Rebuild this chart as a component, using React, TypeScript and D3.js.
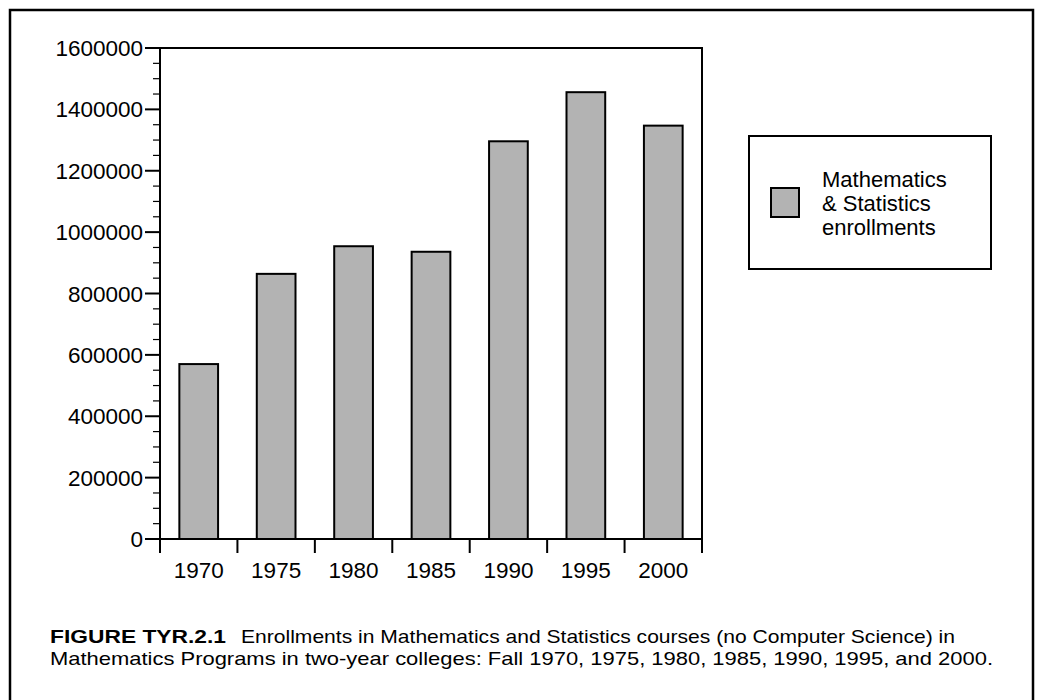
import * as d3 from 'd3';

const years = ['1970', '1975', '1980', '1985', '1990', '1995', '2000'];
const enrollments = [570000, 864000, 954000, 936000, 1296000, 1456000, 1347000];
const yTicks = [0, 200000, 400000, 600000, 800000, 1000000, 1200000, 1400000, 1600000];
const legendLines = ['Mathematics', '& Statistics', 'enrollments'];
const captionBold = 'FIGURE TYR.2.1';
const captionLine1 = 'Enrollments in Mathematics and Statistics courses (no Computer Science) in';
const captionLine2 = 'Mathematics Programs in two-year colleges: Fall 1970, 1975, 1980, 1985, 1990, 1995, and 2000.';

const W = 1042;
const H = 700;
const left = 160;
const right = 702;
const top = 48;
const bottom = 539;
const font = '"Liberation Sans", Arial, Helvetica, sans-serif';

const App = () => {
  const x = d3.scaleBand().domain(years).range([left, right]).paddingInner(0.5).paddingOuter(0.25);
  const xEdges = d3.scaleBand().domain(years).range([left, right]).padding(0);
  const y = d3.scaleLinear().domain([0, 1600000]).range([bottom, top]);
  const minor = d3.range(0, 1600001, 50000).filter((v) => v % 200000 !== 0);
  const edges = years.map((yr) => xEdges(yr)).concat([right]);

  return (
    <svg width={W} height={H} style={{ position: 'absolute', left: 0, top: 0 }} fontFamily={font}>
      <rect width={W} height={H} fill="white" />
      {/* outer frame */}
      <path d="M10,710 V10 H1033 V710" fill="none" stroke="black" strokeWidth={2.5} />

      {/* bars */}
      {years.map((yr, i) => (
        <rect
          key={yr}
          x={x(yr)}
          y={y(enrollments[i])}
          width={x.bandwidth()}
          height={bottom - y(enrollments[i])}
          fill="#b3b3b3"
          stroke="black"
          strokeWidth={2}
        />
      ))}

      {/* plot frame */}
      <path d={`M${left},${bottom} V${top} H${right} V${bottom} H${left}`} fill="none" stroke="black" strokeWidth={2} />

      {/* y axis ticks */}
      {minor.map((v) => (
        <line key={'m' + v} x1={left - 7} x2={left} y1={y(v)} y2={y(v)} stroke="black" strokeWidth={1.2} />
      ))}
      {yTicks.map((v) => (
        <g key={v}>
          <line x1={left - 15} x2={left} y1={y(v)} y2={y(v)} stroke="black" strokeWidth={2} />
          <text x={left - 17} y={y(v)} dy="0.36em" textAnchor="end" fontSize={22.5}>
            {v}
          </text>
        </g>
      ))}

      {/* x axis ticks */}
      {edges.map((e, i) => (
        <line key={'e' + i} x1={e} x2={e} y1={bottom} y2={bottom + 14} stroke="black" strokeWidth={2} />
      ))}
      {years.map((yr) => (
        <text key={'t' + yr} x={xEdges(yr) + xEdges.bandwidth() / 2} y={578} textAnchor="middle" fontSize={22.5}>
          {yr}
        </text>
      ))}

      {/* legend */}
      <rect x={749} y={136} width={242} height={133} fill="white" stroke="black" strokeWidth={2} />
      <rect x={771} y={188} width={28} height={29} fill="#b3b3b3" stroke="black" strokeWidth={2} />
      {legendLines.map((t, i) => (
        <text key={t} x={822} y={187 + i * 24} fontSize={22}>
          {t}
        </text>
      ))}

      {/* caption */}
      <text x={50} y={643} fontSize={19} fontWeight="bold" textLength={176} lengthAdjust="spacingAndGlyphs">
        {captionBold}
      </text>
      <text x={241} y={643} fontSize={19} textLength={714} lengthAdjust="spacingAndGlyphs">
        {captionLine1}
      </text>
      <text x={50} y={665} fontSize={19} textLength={943} lengthAdjust="spacingAndGlyphs">
        {captionLine2}
      </text>
    </svg>
  );
};

export default App;
